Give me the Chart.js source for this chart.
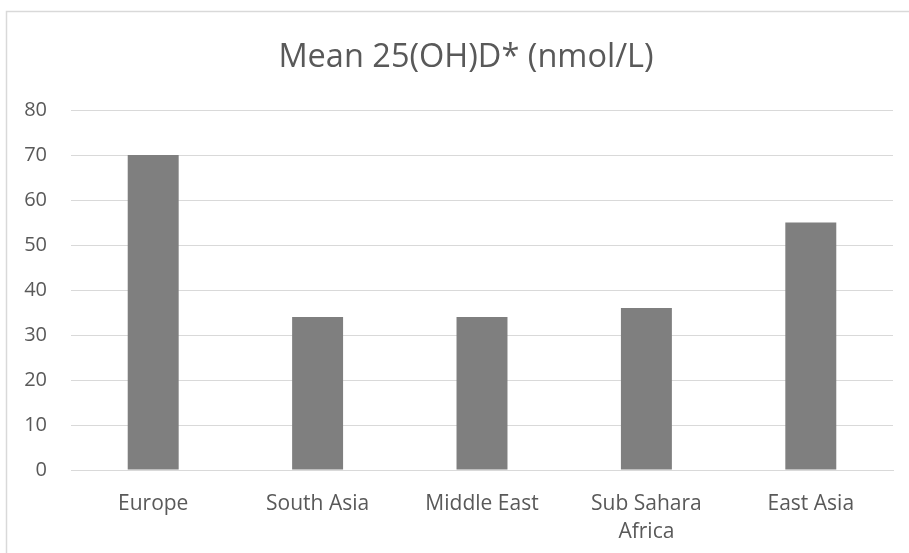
<!DOCTYPE html>
<html>
<head>
<meta charset="utf-8">
<script src="https://cdn.jsdelivr.net/npm/chart.js@4/dist/chart.umd.min.js"></script>
<style>
  html, body { margin: 0; padding: 0; background: #fff; }
  #wrap { position: relative; width: 909px; height: 553px; }
</style>
</head>
<body>
<div id="wrap"><canvas id="c" width="909" height="553"></canvas></div>
<script>
// Regions and their mean serum 25(OH)D levels
const regions = ['Europe', 'South Asia', 'Middle East', ['Sub Sahara', 'Africa'], 'East Asia'];
const meanLevels = [70, 34, 34, 36, 55];
const yTicks = { min: 0, max: 80, step: 10 };
const chartTitle = 'Mean 25(OH)D* (nmol/L)';

const FONT = '"Open Sans", Lato, sans-serif';
const TEXT = '#595959';
const GRID = '#d9d9d9';

// White background plus a light frame open on the right/bottom edges
const framePlugin = {
  id: 'frame',
  beforeDraw(chart) {
    const ctx = chart.ctx;
    ctx.save();
    ctx.fillStyle = '#ffffff';
    ctx.fillRect(0, 0, chart.width, chart.height);
    ctx.strokeStyle = '#d9d9d9';
    ctx.lineWidth = 1.5;
    ctx.beginPath();
    ctx.moveTo(6.5, chart.height + 2);
    ctx.lineTo(6.5, 11.5);
    ctx.lineTo(chart.width + 2, 11.5);
    ctx.stroke();
    ctx.restore();
  }
};

// Title centred over the whole frame
const titlePlugin = {
  id: 'frameTitle',
  afterDraw(chart) {
    const ctx = chart.ctx;
    ctx.save();
    ctx.fillStyle = TEXT;
    ctx.font = '32.5px ' + FONT;
    ctx.textAlign = 'center';
    ctx.textBaseline = 'alphabetic';
    ctx.fillText(chartTitle, 466, 67);
    ctx.restore();
  }
};

new Chart(document.getElementById('c'), {
  type: 'bar',
  data: {
    labels: regions,
    datasets: [{
      data: meanLevels,
      backgroundColor: '#7f7f7f',
      borderWidth: 0,
      barPercentage: 0.62,
      categoryPercentage: 0.5
    }]
  },
  options: {
    responsive: false,
    animation: false,
    layout: { padding: { left: 0, right: 16, top: 110, bottom: 0 } },
    plugins: {
      legend: { display: false },
      tooltip: { enabled: false },
      title: { display: false }
    },
    scales: {
      x: {
        grid: { display: false, drawTicks: false },
        border: { display: true, color: GRID, width: 1 },
        ticks: {
          color: TEXT,
          font: { family: FONT, size: 21, lineHeight: 1.32 },
          padding: 20,
          maxRotation: 0,
          autoSkip: false
        },
        afterFit(scale) { scale.height = 83; }
      },
      y: {
        min: yTicks.min,
        max: yTicks.max,
        grid: { color: GRID, lineWidth: 1, drawTicks: false },
        border: { display: false },
        ticks: {
          stepSize: yTicks.step,
          color: TEXT,
          font: { family: FONT, size: 20 },
          padding: 24
        },
        afterFit(scale) { scale.width = 71; }
      }
    }
  },
  plugins: [framePlugin, titlePlugin]
});
</script>
</body>
</html>
